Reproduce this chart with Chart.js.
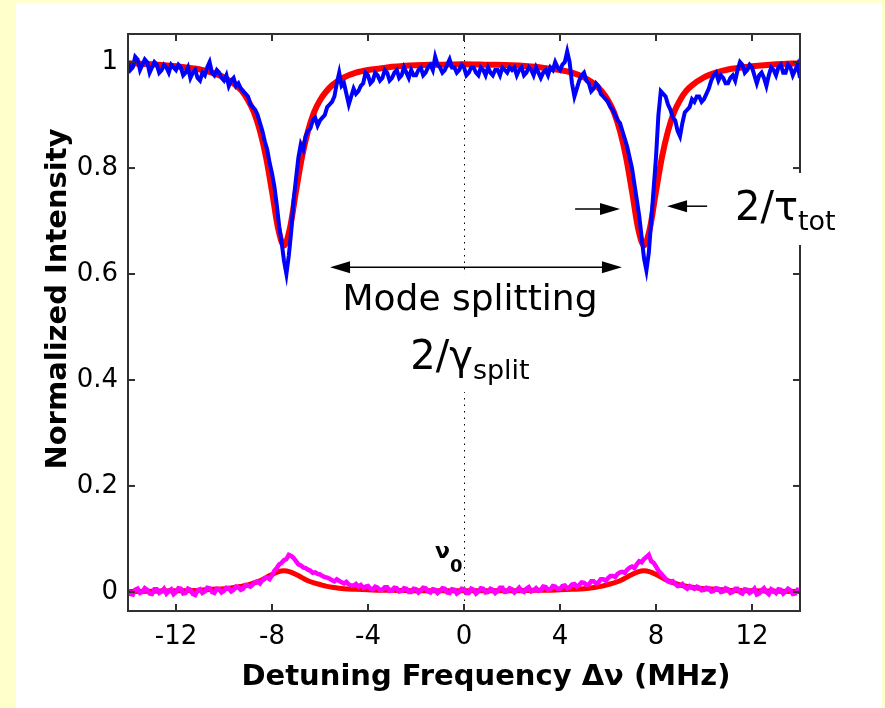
<!DOCTYPE html>
<html>
<head>
<meta charset="utf-8">
<script src="https://cdn.jsdelivr.net/npm/chart.js@4/dist/chart.umd.min.js"></script>
<style>
  html, body { margin: 0; padding: 0; background: #ffffcc; }
  #wrap { width: 885px; height: 708px; }
</style>
</head>
<body>
<div id="wrap"><canvas id="chart"></canvas></div>
<script>
// tick labels
const xTicks = [-12, -8, -4, 0, 4, 8, 12];
const yTicks = [0, 0.2, 0.4, 0.6, 0.8, 1];

// measured traces, one sample every 0.1 MHz from -14 MHz
const sampleStart = -14;
const sampleStep = 0.1;
const transmission = [
  1.00, 0.985, 0.99, 1.01, 1.005, 0.985, 0.995, 1.005, 1.0, 0.98, 0.99, 1.0, 0.995, 0.98, 0.985, 0.995, 0.99, 0.98, 0.995, 0.99,
  0.985, 0.995, 0.99, 0.975, 0.98, 0.99, 0.97, 0.98, 0.985, 0.97, 0.965, 0.98, 0.975, 0.99, 1.0, 0.98, 0.975, 0.985, 0.98, 0.97,
  0.965, 0.975, 0.955, 0.965, 0.97, 0.955, 0.96, 0.95, 0.945, 0.94, 0.935, 0.92, 0.915, 0.91, 0.9, 0.885, 0.87, 0.85, 0.835, 0.81,
  0.79, 0.765, 0.73, 0.69, 0.66, 0.625, 0.60, 0.635, 0.68, 0.74, 0.78, 0.82, 0.845, 0.835, 0.86, 0.87, 0.875, 0.89, 0.895, 0.88,
  0.89, 0.895, 0.9, 0.915, 0.92, 0.925, 0.935, 0.96, 0.98, 0.955, 0.96, 0.94, 0.92, 0.935, 0.95, 0.94, 0.945, 0.955, 0.96, 0.98,
  0.975, 0.96, 0.965, 0.98, 0.975, 0.965, 0.97, 0.985, 0.98, 0.965, 0.97, 0.98, 0.985, 0.97, 0.975, 0.99, 0.98, 0.97, 0.985, 0.975,
  0.975, 0.985, 0.99, 0.975, 0.98, 0.99, 0.995, 0.985, 1.01, 0.995, 0.99, 0.98, 0.985, 0.995, 1.005, 0.99, 0.99, 0.98, 0.985, 0.995,
  0.99, 0.975, 0.98, 0.99, 0.99, 0.98, 0.975, 0.99, 0.985, 0.975, 0.99, 0.98, 0.975, 0.985, 0.985, 0.975, 0.99, 0.985, 0.98, 0.99,
  0.985, 0.99, 0.975, 0.985, 0.99, 0.975, 0.98, 0.99, 0.985, 0.975, 0.99, 0.98, 0.97, 0.98, 0.985, 0.975, 0.99, 0.985, 1.0, 0.99,
  0.985, 0.995, 1.0, 1.02, 1.0, 0.96, 0.935, 0.95, 0.965, 0.975, 0.98, 0.965, 0.96, 0.945, 0.95, 0.96, 0.955, 0.94, 0.935, 0.93,
  0.925, 0.915, 0.91, 0.9, 0.89, 0.885, 0.87, 0.855, 0.84, 0.82, 0.8, 0.77, 0.74, 0.71, 0.67, 0.63, 0.607, 0.64, 0.7, 0.76,
  0.82, 0.9, 0.945, 0.94, 0.935, 0.92, 0.91, 0.895, 0.89, 0.87, 0.86, 0.885, 0.905, 0.91, 0.915, 0.93, 0.925, 0.935, 0.935, 0.925,
  0.93, 0.94, 0.95, 0.965, 0.975, 0.98, 0.965, 0.975, 0.97, 0.96, 0.96, 0.97, 0.975, 0.965, 0.985, 1.0, 0.995, 0.98, 0.985, 0.995,
  0.99, 0.975, 0.96, 0.975, 0.98, 0.97, 0.955, 0.975, 0.99, 0.985, 0.975, 0.99, 0.995, 0.98, 0.98, 0.995, 0.99, 0.975, 0.985, 0.995,
  0.97
];
const reflection = [
  0.003, -0.004, -0.005, 0.004, 0.006, -0.002, 0.0, 0.007, 0.004, -0.003, -0.004, 0.005, 0.005, -0.002, 0.001, 0.006, -0.003, 0.002, 0.005, -0.004,
  0.0, 0.007, 0.006, -0.003, -0.002, 0.006, 0.004, -0.004, -0.006, 0.003, 0.005, -0.002, 0.001, 0.008, 0.007, 0.0, -0.002, 0.006, 0.005, -0.001,
  0.002, 0.008, 0.007, 0.001, 0.004, 0.01, 0.009, 0.004, 0.006, 0.013, 0.012, 0.01, 0.014, 0.018, 0.02, 0.016, 0.022, 0.026, 0.027, 0.024,
  0.031, 0.04, 0.045, 0.052, 0.055, 0.06, 0.062, 0.07, 0.068, 0.064, 0.058, 0.052, 0.05, 0.046, 0.045, 0.042, 0.04, 0.036, 0.037, 0.034,
  0.033, 0.03, 0.028, 0.027, 0.025, 0.022, 0.02, 0.024, 0.021, 0.018, 0.016, 0.019, 0.014, 0.012, 0.012, 0.015, 0.01, 0.013, 0.008, 0.01,
  0.011, 0.006, 0.005, 0.01, 0.008, 0.003, 0.004, 0.009, 0.009, 0.002, 0.003, 0.008, 0.007, 0.001, 0.002, 0.007, 0.006, 0.0, 0.0, 0.006,
  0.005, -0.001, 0.003, 0.008, 0.007, 0.001, -0.001, 0.005, 0.004, -0.002, 0.002, 0.007, 0.006, -0.001, -0.002, 0.005, 0.004, -0.003, 0.0, 0.006,
  0.005, -0.002, -0.002, 0.006, 0.004, -0.003, 0.001, 0.007, 0.006, -0.001, 0.0, 0.006, 0.004, -0.002, 0.002, 0.008, 0.008, 0.0, 0.001, 0.007,
  0.005, -0.001, 0.003, 0.008, 0.002, 0.0, 0.006, 0.009, 0.001, 0.003, 0.007, 0.002, 0.004, 0.01, 0.009, 0.004, 0.005, 0.011, 0.01, 0.006,
  0.006, 0.011, 0.012, 0.007, 0.009, 0.014, 0.015, 0.01, 0.013, 0.018, 0.017, 0.013, 0.014, 0.02, 0.02, 0.016, 0.018, 0.024, 0.024, 0.021,
  0.026, 0.03, 0.03, 0.028, 0.034, 0.037, 0.038, 0.036, 0.042, 0.046, 0.048, 0.045, 0.052, 0.058, 0.056, 0.062, 0.066, 0.07, 0.058, 0.055,
  0.048, 0.04, 0.035, 0.03, 0.025, 0.02, 0.018, 0.02, 0.015, 0.011, 0.012, 0.015, 0.009, 0.006, 0.011, 0.008, 0.006, 0.01, 0.008, 0.003,
  0.004, 0.008, 0.007, 0.001, 0.002, 0.007, 0.006, 0.0, 0.001, 0.007, 0.005, -0.002, 0.0, 0.006, 0.006, -0.001, -0.003, 0.005, 0.004, -0.002,
  0.001, 0.006, -0.005, -0.003, 0.003, 0.007, 0.0, -0.004, 0.005, 0.002, -0.002, 0.005, 0.004, -0.003, 0.001, 0.006, 0.003, -0.004, -0.003, 0.004,
  0.002
];

// fitted curves (red)
const fitX = [
  -14, -13, -12, -11, -10.5, -10, -9.5, -9.25, -9, -8.75, -8.5, -8.25, -8, -7.75, -7.5,
  -7.25, -7, -6.75, -6.5, -6.25, -6, -5.75, -5.5, -5, -4.5, -4, -3.5, -3, -2, -1, 0,
  1, 2, 3, 3.5, 4, 4.5, 5, 5.5, 5.75, 6, 6.25, 6.5, 6.75, 7, 7.25, 7.5,
  7.75, 8, 8.25, 8.5, 8.75, 9, 9.25, 9.5, 10, 10.5, 11, 12, 13, 14
];
const fitTransmission = [
  0.998, 0.996, 0.992, 0.986, 0.980, 0.971, 0.956, 0.945, 0.928, 0.905, 0.870, 0.821, 0.756, 0.687, 0.654,
  0.687, 0.756, 0.821, 0.870, 0.905, 0.928, 0.944, 0.956, 0.971, 0.980, 0.985, 0.988, 0.991, 0.994, 0.995, 0.996,
  0.995, 0.994, 0.991, 0.988, 0.985, 0.980, 0.971, 0.956, 0.944, 0.928, 0.905, 0.870, 0.821, 0.756, 0.687, 0.654,
  0.687, 0.756, 0.821, 0.870, 0.905, 0.928, 0.945, 0.956, 0.971, 0.980, 0.986, 0.992, 0.996, 0.998
];
const fitReflection = [
  0.001, 0.0015, 0.002, 0.003, 0.005, 0.006, 0.009, 0.011, 0.013, 0.017, 0.021, 0.027, 0.033, 0.038, 0.040,
  0.038, 0.033, 0.027, 0.021, 0.017, 0.014, 0.011, 0.009, 0.006, 0.005, 0.004, 0.003, 0.003, 0.002, 0.002, 0.002,
  0.002, 0.002, 0.003, 0.003, 0.004, 0.005, 0.006, 0.009, 0.011, 0.014, 0.017, 0.021, 0.027, 0.033, 0.038, 0.040,
  0.038, 0.033, 0.027, 0.021, 0.017, 0.013, 0.011, 0.009, 0.006, 0.005, 0.003, 0.002, 0.0015, 0.001
];

function samples(values) {
  return values.map((v, i) => ({ x: sampleStart + i * sampleStep, y: v }));
}
function fitted(values) {
  return values.map((v, i) => ({ x: fitX[i], y: v }));
}

function arrowHead(c, tipX, y, dir) {
  c.beginPath();
  c.moveTo(tipX, y);
  c.lineTo(tipX - dir * 20, y - 6);
  c.lineTo(tipX - dir * 20, y + 6);
  c.closePath();
  c.fill();
}

function line(c, x1, y1, x2, y2) {
  c.beginPath();
  c.moveTo(x1, y1);
  c.lineTo(x2, y2);
  c.stroke();
}

// text followed by a lowered subscript
function subText(c, x, y, main, sub, size, subSize, drop) {
  c.font = size + 'px "DejaVu Sans"';
  c.fillText(main, x, y);
  const w = c.measureText(main).width;
  c.font = subSize + 'px "DejaVu Sans"';
  c.fillText(sub, x + w, y + drop);
}

const matlabLook = {
  id: 'matlabLook',
  beforeDraw(chart) {
    const c = chart.ctx;
    c.save();
    c.fillStyle = '#ffffcc';
    c.fillRect(0, 0, chart.width, chart.height);
    c.fillStyle = '#ffffff';
    c.fillRect(16, 3, 866, chart.height - 3);
    c.restore();
  },
  beforeDatasetsDraw(chart) {
    const { ctx: c, chartArea: a, scales: { x } } = chart;
    const px = Math.round(x.getPixelForValue(0)) + 0.5;
    c.save();
    c.strokeStyle = '#000';
    c.lineWidth = 1;
    c.setLineDash([1.5, 5]);
    line(c, px, a.top, px, a.bottom);
    c.restore();
  },
  afterDatasetsDraw(chart) {
    const { ctx: c, chartArea: a, scales: { x, y } } = chart;
    c.save();

    // axes box with inward ticks
    c.strokeStyle = '#303030';
    c.lineWidth = 2;
    c.strokeRect(a.left, a.top, a.right - a.left, a.bottom - a.top);
    xTicks.forEach(v => {
      const px = x.getPixelForValue(v);
      line(c, px, a.bottom, px, a.bottom - 7);
      line(c, px, a.top, px, a.top + 7);
    });
    yTicks.forEach(v => {
      const py = y.getPixelForValue(v);
      line(c, a.left, py, a.left + 7, py);
      line(c, a.right, py, a.right - 7, py);
    });

    c.fillStyle = '#000';
    c.strokeStyle = '#000';
    c.lineWidth = 1.5;

    // mode splitting arrow and labels
    const my = y.getPixelForValue(0.613);
    const mx1 = x.getPixelForValue(-5.58);
    const mx2 = x.getPixelForValue(6.58);
    const cx = x.getPixelForValue(0.25);
    c.fillStyle = '#fff';
    c.fillRect(cx - 135, my + 7, 270, 118);
    c.fillStyle = '#000';
    line(c, mx1 + 10, my, mx2 - 10, my);
    arrowHead(c, mx1, my, -1);
    arrowHead(c, mx2, my, 1);

    c.textBaseline = 'alphabetic';
    c.textAlign = 'center';
    c.font = '36px "DejaVu Sans"';
    c.fillText('Mode splitting', cx, y.getPixelForValue(0.532));
    c.textAlign = 'left';
    const gy = y.getPixelForValue(0.421);
    c.font = '40px "DejaVu Sans"';
    const gw = c.measureText('2/γ').width;
    c.font = '27px "DejaVu Sans"';
    const sw = c.measureText('split').width;
    subText(c, cx - (gw + sw) / 2, gy, '2/γ', 'split', 40, 27, 10);

    // linewidth arrows
    const ty1 = y.getPixelForValue(0.7226);
    line(c, x.getPixelForValue(4.63), ty1, x.getPixelForValue(6.5) - 10, ty1);
    arrowHead(c, x.getPixelForValue(6.5), ty1, 1);
    const ty2 = y.getPixelForValue(0.728);
    line(c, x.getPixelForValue(10.13), ty2, x.getPixelForValue(8.46) + 10, ty2);
    arrowHead(c, x.getPixelForValue(8.46), ty2, -1);

    const tx = x.getPixelForValue(11.29);
    const tb = y.getPixelForValue(0.702);
    c.fillStyle = '#fff';
    c.fillRect(tx - 14, tb - 47, 128, 72);
    c.fillStyle = '#000';
    subText(c, tx, tb, '2/τ', 'tot', 40, 27, 10);

    // resonance label
    const nx = x.getPixelForValue(-1.21);
    const ny = y.getPixelForValue(0.064);
    c.font = 'bold 22px "DejaVu Sans"';
    c.fillText('ν', nx, ny);
    const nw = c.measureText('ν').width;
    c.font = 'bold 18px "DejaVu Sans"';
    c.fillText('0', nx + nw, ny + 14);

    c.restore();
  },
  afterDraw(chart) {
    const c = chart.ctx;
    c.save();
    c.fillStyle = '#000';
    c.font = 'bold 29px "DejaVu Sans"';
    c.textAlign = 'center';
    c.textBaseline = 'alphabetic';
    c.fillText('Detuning Frequency Δν (MHz)', 486, 685);
    c.translate(66, 299);
    c.rotate(-Math.PI / 2);
    c.fillText('Normalized Intensity', 0, 0);
    c.restore();
  }
};

Chart.defaults.font.family = '"DejaVu Sans"';
Chart.defaults.color = '#000';

new Chart(document.getElementById('chart'), {
  type: 'line',
  data: {
    datasets: [
      { data: samples(transmission), borderColor: '#0000ff', borderWidth: 4, tension: 0, clip: 0 },
      { data: fitted(fitTransmission), borderColor: '#ff0000', borderWidth: 6, cubicInterpolationMode: 'monotone', clip: 0 },
      { data: samples(reflection), borderColor: '#ff00ff', borderWidth: 4.5, tension: 0, clip: 0 },
      { data: fitted(fitReflection), borderColor: '#ff0000', borderWidth: 5, cubicInterpolationMode: 'monotone', clip: 0 }
    ]
  },
  options: {
    responsive: true,
    maintainAspectRatio: false,
    devicePixelRatio: 1,
    animation: false,
    events: [],
    elements: { point: { radius: 0 }, line: { borderJoinStyle: 'miter', borderCapStyle: 'butt' } },
    layout: { padding: { left: 0, right: 85, top: 34, bottom: 0 } },
    plugins: { legend: { display: false }, tooltip: { enabled: false } },
    scales: {
      x: {
        type: 'linear',
        min: -14,
        max: 14,
        grid: { display: false, drawTicks: false },
        border: { display: false },
        afterBuildTicks: s => { s.ticks = xTicks.map(v => ({ value: v })); },
        afterFit: s => { s.height = 97; },
        ticks: { font: { size: 26 }, padding: 11, maxRotation: 0, callback: v => String(v) }
      },
      y: {
        type: 'linear',
        min: -0.036,
        max: 1.053,
        grid: { display: false, drawTicks: false },
        border: { display: false },
        afterBuildTicks: s => { s.ticks = yTicks.map(v => ({ value: v })); },
        afterFit: s => { s.width = 128; },
        ticks: { font: { size: 26 }, padding: 10, callback: v => String(v) }
      }
    }
  },
  plugins: [matlabLook]
});
</script>
</body>
</html>
